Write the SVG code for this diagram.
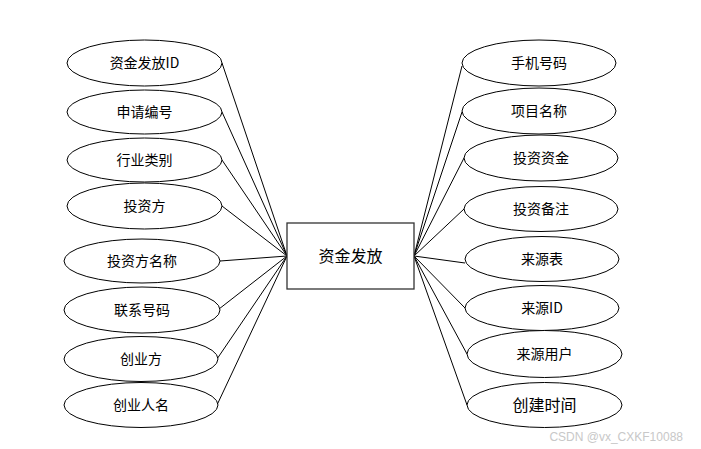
<svg xmlns="http://www.w3.org/2000/svg" width="701" height="449" viewBox="0 0 701 449">
<style>
.e{fill:#fff;stroke:#000;stroke-width:1}
.t{font-family:"Noto Sans CJK SC","Liberation Sans",sans-serif;font-size:14px;fill:#000;text-anchor:middle}
.b{font-size:16px}
.c line{stroke:#000;stroke-width:1}
</style>
<rect width="701" height="449" fill="#fff"/>
<g class="c" id="connectors">
<line x1="222" y1="63" x2="287" y2="256"/>
<line x1="222" y1="112" x2="287" y2="256"/>
<line x1="222" y1="160" x2="287" y2="256"/>
<line x1="222" y1="206" x2="287" y2="256"/>
<line x1="220" y1="261" x2="287" y2="256"/>
<line x1="219" y1="309" x2="287" y2="256"/>
<line x1="217" y1="359" x2="287" y2="256"/>
<line x1="217" y1="405" x2="287" y2="256"/>
<line x1="462" y1="66" x2="414" y2="256"/>
<line x1="462" y1="112" x2="414" y2="256"/>
<line x1="464" y1="158" x2="414" y2="256"/>
<line x1="464" y1="209" x2="414" y2="256"/>
<line x1="465" y1="263" x2="414" y2="256"/>
<line x1="465" y1="308" x2="414" y2="256"/>
<line x1="467" y1="354" x2="414" y2="256"/>
<line x1="467" y1="405" x2="414" y2="256"/>
</g>
<g id="main"><rect x="287" y="223" width="127" height="66" fill="#fff" stroke="#333" stroke-width="1.3"/><text class="t b" x="350.5" y="262">资金发放</text></g>
<g id="l1"><ellipse class="e" cx="144.5" cy="63" rx="77.5" ry="23"/><text class="t" x="144.5" y="68">资金发放ID</text></g>
<g id="l2"><ellipse class="e" cx="144.5" cy="112" rx="77.5" ry="22"/><text class="t" x="144.5" y="117">申请编号</text></g>
<g id="l3"><ellipse class="e" cx="144.5" cy="160" rx="77.5" ry="22"/><text class="t" x="144.5" y="165">行业类别</text></g>
<g id="l4"><ellipse class="e" cx="144.5" cy="206" rx="77.5" ry="23"/><text class="t" x="144.5" y="211">投资方</text></g>
<g id="l5"><ellipse class="e" cx="142" cy="261" rx="78" ry="22"/><text class="t" x="142" y="266">投资方名称</text></g>
<g id="l6"><ellipse class="e" cx="142" cy="310" rx="78" ry="23"/><text class="t" x="142" y="315">联系号码</text></g>
<g id="l7"><ellipse class="e" cx="141" cy="359" rx="77" ry="22.5"/><text class="t" x="141" y="364">创业方</text></g>
<g id="l8"><ellipse class="e" cx="141" cy="405" rx="77" ry="22.5"/><text class="t" x="141" y="410">创业人名</text></g>
<g id="r1"><ellipse class="e" cx="539" cy="63" rx="77" ry="23"/><text class="t" x="539" y="68">手机号码</text></g>
<g id="r2"><ellipse class="e" cx="539" cy="111" rx="77" ry="23"/><text class="t" x="539" y="116">项目名称</text></g>
<g id="r3"><ellipse class="e" cx="541" cy="158" rx="77" ry="23"/><text class="t" x="541" y="163">投资资金</text></g>
<g id="r4"><ellipse class="e" cx="541" cy="209" rx="77" ry="22.5"/><text class="t" x="541" y="214">投资备注</text></g>
<g id="r5"><ellipse class="e" cx="542" cy="259" rx="77" ry="22.5"/><text class="t" x="542" y="264">来源表</text></g>
<g id="r6"><ellipse class="e" cx="542" cy="308" rx="77" ry="22.5"/><text class="t" x="542" y="313">来源ID</text></g>
<g id="r7"><ellipse class="e" cx="544.5" cy="354" rx="77.5" ry="23.5"/><text class="t" x="544.5" y="359">来源用户</text></g>
<g id="r8"><ellipse class="e" cx="544.5" cy="405" rx="77.5" ry="22.5"/><text class="t b" x="544.5" y="411">创建时间</text></g>
<text x="683" y="441" font-family="'Liberation Sans',sans-serif" font-size="12" fill="#c8c8c8" text-anchor="end">CSDN @vx_CXKF10088</text>
</svg>
